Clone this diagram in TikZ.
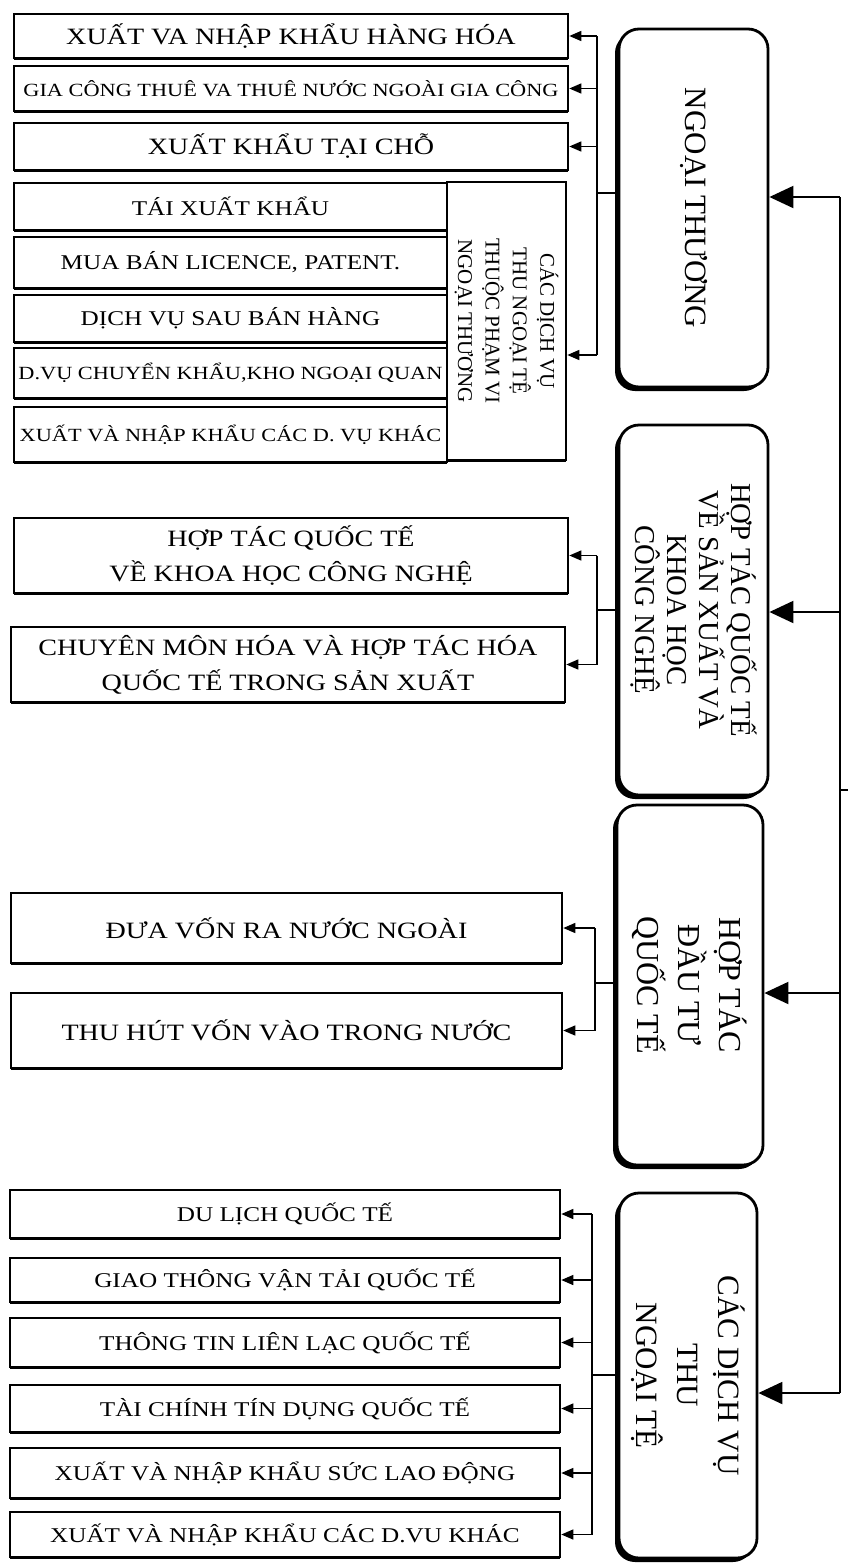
\documentclass[tikz,border=0pt]{standalone}
\usepackage{fontspec}
\setmainfont{Liberation Serif}
\newfontfamily\wide{Liberation Serif}[FakeStretch=1.2]
\usetikzlibrary{arrows.meta,shadows}

\begin{document}
\begin{tikzpicture}[x=0.5pt,y=-0.5pt]
\tikzstyle{every node}+=[inner sep=0pt]
\tikzset{wh/.style 2 args={minimum width=#1*0.5pt, minimum height=#2*0.5pt}}
\tikzstyle{box}=[draw, line width=1.3pt, fill=white,
  drop shadow={shadow xshift=0pt, shadow yshift=-1.2pt, fill=black, opacity=1}]
\tikzstyle{mainbox}=[draw, line width=1.4pt, fill=white, rounded corners=10pt,
  drop shadow={shadow xshift=-2pt, shadow yshift=-2pt, fill=black, opacity=1}]
\tikzstyle{txtL}=[font=\wide\fontsize{11.7}{17.5}\selectfont, align=center]
\tikzstyle{txtM}=[font=\wide\fontsize{10.5}{13}\selectfont, align=center]
\tikzstyle{txtS}=[font=\wide\fontsize{9.3}{11}\selectfont, align=center]
\tikzstyle{vtxt}=[rotate=-90, align=center]
\tikzstyle{thin}=[line width=0.7pt]
\tikzstyle{sarr}=[thin, -{Triangle[length=6pt,width=5pt]}]
\tikzstyle{barr}=[line width=1pt, -{Triangle[length=12pt,width=11pt]}]
\useasboundingbox (0,0) rectangle (848,1563);

% main boxes
\node[mainbox, wh={149}{358}] (nt) at (693.5,208) {};
\node[vtxt, font=\fontsize{15.5}{18}\selectfont] (ntt) at (nt) {NGOẠI THƯƠNG};
\node[mainbox, wh={149}{370}] (hths) at (693.5,610) {};
\node[vtxt, font=\fontsize{14.4}{16}\selectfont] (hthst) at (hths) {HỢP TÁC QUỐC TẾ\\VỀ SẢN XUẤT VÀ\\KHOA HỌC\\CÔNG NGHỆ};
\node[mainbox, wh={146}{360}] (htdt) at (690,985) {};
\node[vtxt, font=\fontsize{16}{20.5}\selectfont] (htdtt) at (htdt) {HỢP TÁC\\ĐẦU TƯ\\QUỐC TẾ};
\node[mainbox, wh={138}{365}] (dvt) at (688,1375.5) {};
\node[vtxt, font=\fontsize{15.5}{20.5}\selectfont] (dvtt) at (dvt) {CÁC DỊCH VỤ\\THU\\NGOẠI TỆ};

% ngoai thuong
\node[box, wh={554}{44}, txtL] (a1) at (291,36) {XUẤT VA NHẬP KHẨU HÀNG HÓA};
\node[box, wh={554}{45}, txtS] (a2) at (291,88.5) {GIA CÔNG THUÊ VA THUÊ NƯỚC NGOÀI GIA CÔNG};
\node[box, wh={554}{47}, txtL] (a3) at (291,146.5) {XUẤT KHẨU TẠI CHỖ};
\node[box, wh={433}{47}, txtM] (b1) at (230.5,206.5) {TÁI XUẤT KHẨU};
\node[box, wh={433}{51}, txtM] (b2) at (230.5,262.5) {MUA BÁN LICENCE, PATENT.};
\node[box, wh={433}{47}, txtM] (b3) at (230.5,318.5) {DỊCH VỤ SAU BÁN HÀNG};
\node[box, wh={433}{50}, txtS] (b4) at (230.5,373) {D.VỤ CHUYỂN KHẨU,KHO NGOẠI QUAN};
\node[box, wh={433}{55}, txtS] (b5) at (230.5,434.5) {XUẤT VÀ NHẬP KHẨU CÁC D. VỤ KHÁC};
\node[box, wh={119}{278}] (vb) at (506.5,321) {};
\node[vtxt, font=\fontsize{10.5}{13.7}\selectfont] (vbt) at (vb) {CÁC DỊCH VỤ\\THU NGOẠI TỆ\\THUỘC PHẠM VI\\NGOẠI THƯƠNG};

% hop tac san xuat
\node[box, wh={554}{75}, txtL] (c1) at (291,555.5) {HỢP TÁC QUỐC TẾ\\VỀ KHOA HỌC CÔNG NGHỆ};
\node[box, wh={554}{75}, txtL] (c2) at (288,664.5) {CHUYÊN MÔN HÓA VÀ HỢP TÁC HÓA\\QUỐC TẾ TRONG SẢN XUẤT};

% dau tu
\node[box, wh={551}{70}, txtL] (d1) at (286.5,928) {ĐƯA VỐN RA NƯỚC NGOÀI};
\node[box, wh={551}{75}, txtL] (d2) at (286.5,1030.5) {THU HÚT VỐN VÀO TRONG NƯỚC};

% dich vu thu ngoai te
\node[box, wh={550}{48}, txtM] (e1) at (285,1214) {DU LỊCH QUỐC TẾ};
\node[box, wh={550}{44}, txtM] (e2) at (285,1280) {GIAO THÔNG VẬN TẢI QUỐC TẾ};
\node[box, wh={550}{49}, txtM] (e3) at (285,1342.5) {THÔNG TIN LIÊN LẠC QUỐC TẾ};
\node[box, wh={550}{47}, txtM] (e4) at (285,1408.5) {TÀI CHÍNH TÍN DỤNG QUỐC TẾ};
\node[box, wh={550}{50}, txtM] (e5) at (285,1473) {XUẤT VÀ NHẬP KHẨU SỨC LAO ĐỘNG};
\node[box, wh={550}{45}, txtM] (e6) at (285,1534.5) {XUẤT VÀ NHẬP KHẨU CÁC D.VU KHÁC};

% buses
\coordinate (ja) at (597,193);
\coordinate (va) at (597,355);
\draw[thin] (ja -| nt.west) -- (ja);
\draw[thin] (a1.east -| ja) -- (va);
\foreach \n in {a1,a2,a3} \draw[sarr] (\n.east -| ja) -- (\n.east);
\draw[sarr] (va) -- (va -| vb.east);

\coordinate (jc) at (597,610);
\draw[thin] (jc -| hths.west) -- (jc);
\draw[thin] (c1.east -| jc) -- (c2.east -| jc);
\foreach \n in {c1,c2} \draw[sarr] (\n.east -| jc) -- (\n.east);

\coordinate (jd) at (595,983);
\draw[thin] (jd -| htdt.west) -- (jd);
\draw[thin] (d1.east -| jd) -- (d2.east -| jd);
\foreach \n in {d1,d2} \draw[sarr] (\n.east -| jd) -- (\n.east);

\coordinate (je) at (592,1375);
\draw[thin] (je -| dvt.west) -- (je);
\draw[thin] (e1.east -| je) -- (e6.east -| je);
\foreach \n in {e1,e2,e3,e4,e5,e6} \draw[sarr] (\n.east -| je) -- (\n.east);

% trunk
\coordinate (t1) at (840,197);
\coordinate (t2) at (840,612);
\coordinate (t3) at (840,993);
\coordinate (t4) at (840,1393);
\coordinate (st) at (848,790);
\draw[line width=1.2pt] (t1) -- (t4);
\draw[line width=1pt] (st -| t1) -- (st);
\foreach \t/\m in {t1/nt,t2/hths,t3/htdt,t4/dvt} \draw[barr] (\t) -- (\t -| \m.east);
\end{tikzpicture}
\end{document}
